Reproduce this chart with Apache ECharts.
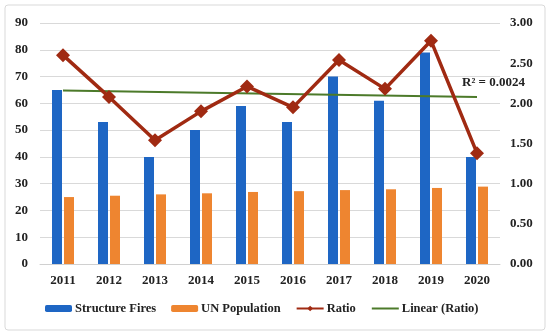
<!DOCTYPE html>
<html><head><meta charset="utf-8">
<script src="https://cdn.jsdelivr.net/npm/echarts@6/dist/echarts.min.js"></script>
<style>html,body{margin:0;padding:0;background:#fff}#c{width:550px;height:335px}</style>
</head><body><div id="c"></div>
<script>
const years = ['2011','2012','2013','2014','2015','2016','2017','2018','2019','2020'];
const structureFires = [65, 53, 40, 50, 59, 53, 70, 61, 79, 40];
const unPopulation = [25.0, 25.5, 26.0, 26.4, 26.9, 27.2, 27.6, 27.9, 28.4, 28.9];
const ratio = [2.60, 2.08, 1.54, 1.90, 2.21, 1.95, 2.54, 2.18, 2.78, 1.38];
const linearRatio = [2.16, null, null, null, null, null, null, null, null, 2.08];
const leftTicks = {min: 0, max: 90, interval: 10};
const rightTicks = {min: 0, max: 3, interval: 0.5};
const r2Text = 'R² = 0.0024';

const font = '"Liberation Serif", "Times New Roman", serif';
const chart = echarts.init(document.getElementById('c'));
chart.setOption({
  animation: false,
  textStyle: {fontFamily: font},
  grid: {left: 40, right: 50, top: 23, bottom: 71},
  graphic: [
    {type: 'rect', shape: {x: 5, y: 5, width: 540, height: 325, r: 3}, style: {fill: 'none', stroke: '#d9d9d9', lineWidth: 1}, silent: true},
    {type: 'text', left: 462, top: 76, style: {text: r2Text, font: 'bold 13px ' + font, fill: '#222'}}
  ],
  legend: {
    bottom: 15, left: 40, itemWidth: 27, itemHeight: 7, itemGap: 15,
    textStyle: {fontFamily: font, fontWeight: 'bold', fontSize: 12.5, color: '#222', padding: [0, 0, 0, -2]},
    data: ['Structure Fires', 'UN Population', 'Ratio',
      {name: 'Linear (Ratio)', itemStyle: {opacity: 0}}]
  },
  xAxis: {
    type: 'category', data: years,
    axisTick: {show: false},
    axisLine: {lineStyle: {color: '#d0d0d0'}},
    axisLabel: {fontFamily: font, fontWeight: 'bold', fontSize: 13, color: '#222', margin: 10}
  },
  yAxis: [
    {type: 'value', min: leftTicks.min, max: leftTicks.max, interval: leftTicks.interval,
     axisLabel: {fontFamily: font, fontWeight: 'bold', fontSize: 13, color: '#222', margin: 12},
     splitLine: {lineStyle: {color: '#d9d9d9'}}, axisLine: {show: false}, axisTick: {show: false}},
    {type: 'value', min: rightTicks.min, max: rightTicks.max, interval: rightTicks.interval,
     axisLabel: {fontFamily: font, fontWeight: 'bold', fontSize: 13, color: '#222', margin: 10, formatter: v => v.toFixed(2)},
     splitLine: {show: false}, axisLine: {show: false}, axisTick: {show: false}}
  ],
  series: [
    {name: 'Structure Fires', type: 'bar', data: structureFires, barWidth: 10, barGap: '20%', itemStyle: {color: '#1E66C4'}},
    {name: 'UN Population', type: 'bar', data: unPopulation, barWidth: 10, itemStyle: {color: '#EE8530'}},
    {name: 'Ratio', type: 'line', yAxisIndex: 1, data: ratio, symbol: 'diamond', symbolSize: 14,
     lineStyle: {color: '#A02A12', width: 3.5}, itemStyle: {color: '#A02A12'}, z: 5},
    {name: 'Linear (Ratio)', type: 'line', yAxisIndex: 1, data: linearRatio, connectNulls: true, symbol: 'none',
     lineStyle: {color: '#4C7A2A', width: 2}, itemStyle: {color: '#4C7A2A'}, z: 4}
  ]
});
</script></body></html>
